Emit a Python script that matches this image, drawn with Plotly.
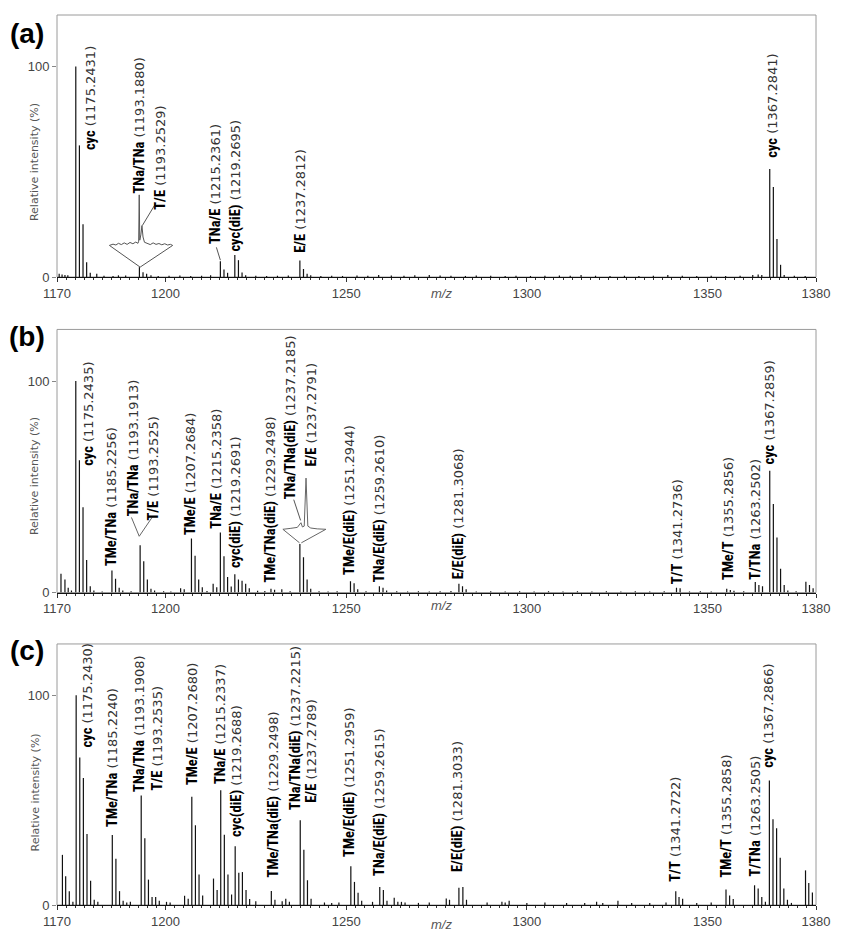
import plotly.graph_objects as go

# ---------------- data ----------------
X_TICKS = [1170, 1200, 1250, 1300, 1350, 1380]
Y_TICKS = [0, 100]

# panel (a) peaks (m/z, relative intensity %)
a_mz = [1170.6, 1171.4, 1172.2, 1173.0, 1175.2, 1176.2, 1177.2, 1178.2, 1179.2, 1181.0, 1183.0, 1185.5,
        1187.0, 1189.0, 1192.8, 1193.8, 1194.8, 1196.0, 1198.0, 1201.0, 1204.0, 1207.0, 1210.0,
        1212.5, 1215.2, 1216.2, 1217.2, 1219.2, 1220.2, 1221.2, 1222.2, 1225.0, 1228.0, 1231.0,
        1234.0, 1237.2, 1238.2, 1239.2, 1240.2, 1243.0, 1246.0, 1249.0, 1253.0, 1256.0, 1259.0,
        1262.5, 1266.0, 1269.0, 1273.0, 1276.0, 1279.0, 1283.0, 1286.0, 1290.0, 1294.0, 1297.0,
        1301.0, 1305.0, 1309.0, 1312.0, 1315.0, 1319.0, 1323.0, 1327.0, 1331.0, 1335.0, 1339.0,
        1343.0, 1347.0, 1351.0, 1355.0, 1359.0, 1362.5, 1364.0, 1365.0, 1367.2, 1368.2, 1369.2,
        1370.2, 1371.2, 1374.0, 1377.0]
a_int = [1.5, 1.2, 1.0, 0.8, 100, 62.5, 25.0, 7.0, 2.0, 1.5, 0.6, 0.5,
         0.8, 0.7, 4.7, 2.3, 1.5, 0.8, 0.5, 0.6, 0.7, 0.5, 0.6,
         0.8, 7.5, 3.6, 2.0, 10.5, 8.0, 2.2, 0.8, 0.6, 0.5, 0.6,
         0.7, 7.8, 3.8, 1.5, 0.8, 0.5, 0.6, 0.5, 0.7, 0.6, 0.9,
         0.7, 0.6, 0.8, 1.0, 0.7, 0.6, 0.5, 0.7, 0.6, 0.5, 0.6,
         0.5, 0.6, 0.7, 0.6, 1.0, 0.6, 0.5, 0.6, 0.5, 0.6, 0.9,
         0.6, 0.5, 0.6, 0.5, 0.6, 0.9, 1.2, 1.0, 51.3, 42.7, 18.0,
         5.8, 1.0, 0.6, 0.5]

# panel (b) peaks
b_mz = [1171.1, 1172.2, 1173.1, 1174.0, 1175.2, 1176.2, 1177.2, 1178.2, 1179.2, 1180.2, 1182.5,
        1185.2, 1186.2, 1187.2, 1188.2, 1190.5,
        1193.0, 1194.0, 1195.0, 1196.0, 1197.0, 1199.5, 1201.5,
        1204.2, 1205.2, 1207.2, 1208.2, 1209.2, 1210.2, 1211.5,
        1213.2, 1214.2, 1215.2, 1216.2, 1217.2, 1218.2, 1219.2, 1220.2, 1221.2, 1222.2, 1223.2,
        1225.5, 1227.5, 1229.2, 1230.2, 1232.2, 1234.5,
        1237.2, 1238.2, 1239.2, 1240.2, 1242.5, 1245.0, 1247.5,
        1251.2, 1252.2, 1253.2, 1255.5,
        1259.2, 1260.2, 1261.2, 1264.0, 1267.0, 1270.0, 1273.0, 1276.0, 1279.0,
        1281.2, 1282.2, 1283.2, 1286.0, 1290.0, 1294.0, 1298.0, 1302.0, 1306.0, 1310.0,
        1314.0, 1318.0, 1322.0, 1326.0, 1330.0, 1334.0, 1338.0,
        1341.4, 1342.4, 1345.0, 1348.0, 1351.0,
        1355.3, 1356.3, 1357.3, 1360.0,
        1363.2, 1364.2, 1365.2,
        1367.2, 1368.2, 1369.2, 1370.2, 1371.2, 1372.2, 1374.5,
        1377.2, 1378.2, 1379.2]
b_int = [8.9, 6.1, 2.2, 1.0, 100, 62.6, 40.3, 15.4, 3.0, 1.0, 0.5,
         10.4, 6.5, 2.3, 1.0, 0.6,
         22.4, 14.8, 6.1, 1.8, 1.0, 0.6, 0.5,
         2.0, 1.5, 25.6, 17.4, 6.1, 2.5, 0.7,
         4.2, 2.5, 28.4, 17.1, 7.3, 2.8, 8.6, 6.1, 5.6, 4.2, 2.0,
         0.8, 0.7, 1.8, 1.3, 1.5, 0.6,
         23.0, 16.7, 6.1, 1.8, 0.6, 0.5, 0.6,
         5.3, 4.4, 1.5, 0.6,
         3.0, 2.2, 1.0, 0.6, 0.5, 0.6, 0.5, 0.6, 0.7,
         4.2, 3.0, 1.5, 0.5, 0.6, 0.5, 0.6, 0.5, 0.6, 0.5,
         0.6, 0.5, 0.6, 0.5, 0.6, 0.5, 0.6,
         2.3, 2.0, 0.5, 0.6, 0.5,
         1.8, 1.2, 0.8, 0.6,
         5.0, 3.5, 3.0,
         57.6, 41.9, 26.0, 11.2, 3.6, 1.0, 0.6,
         5.1, 3.6, 2.0]

# panel (c) peaks
c_mz = [1171.5, 1172.4, 1173.4, 1174.4, 1175.3, 1176.3, 1177.3, 1178.3, 1179.3, 1180.3, 1181.3,
        1185.3, 1186.3, 1187.3, 1188.3, 1189.3, 1190.3,
        1193.3, 1194.3, 1195.3, 1196.3, 1197.3, 1198.3, 1200.3, 1201.3,
        1205.3, 1206.3, 1207.3, 1208.3, 1209.3, 1210.3,
        1213.3, 1214.3, 1215.3, 1216.3, 1217.3, 1218.3, 1219.3, 1220.3, 1221.3, 1222.3, 1223.3, 1225.0,
        1229.3, 1230.3, 1232.3, 1233.3, 1234.3,
        1237.3, 1238.3, 1239.3, 1240.3,
        1244.0, 1246.0, 1248.0,
        1251.3, 1252.3, 1253.3, 1254.3, 1257.3,
        1259.3, 1260.3, 1261.3, 1263.3, 1264.3, 1265.3, 1266.3,
        1270.0, 1273.0, 1277.7, 1278.6, 1281.2, 1282.3, 1283.3,
        1289.0, 1293.1, 1294.0, 1295.1, 1300.0, 1305.0, 1311.0, 1316.0, 1319.3, 1321.0, 1325.2,
        1329.0, 1334.0, 1338.5,
        1341.2, 1342.1, 1343.1,
        1347.0, 1351.0,
        1355.1, 1356.1, 1357.1,
        1363.0, 1364.0, 1365.0, 1366.0,
        1367.1, 1368.1, 1369.1, 1370.1, 1371.1, 1372.1, 1373.2,
        1377.1, 1378.0, 1379.0]
c_int = [23.9, 13.7, 6.6, 1.5, 100, 70.3, 60.5, 33.8, 11.5, 2.5, 1.5,
         33.3, 22.0, 6.6, 2.0, 1.2, 1.5,
         52.2, 31.8, 12.1, 3.8, 3.8, 2.0, 1.5, 1.2,
         4.4, 3.0, 51.6, 38.0, 14.5, 4.5,
         12.6, 7.1, 54.7, 33.5, 14.5, 5.0, 28.0, 15.4, 15.7, 7.1, 2.8, 1.8,
         6.7, 2.5, 1.8, 3.0, 1.5,
         40.4, 26.3, 11.8, 3.0,
         1.2, 1.0, 1.2,
         18.5, 11.0, 5.8, 2.0, 1.5,
         8.6, 7.1, 2.0, 3.5, 1.5, 1.5, 1.2,
         1.0, 1.2, 3.1, 2.5, 8.2, 8.6, 2.5,
         1.2, 1.5, 1.2, 2.0, 1.0, 1.2, 1.0, 1.0, 1.5, 1.0, 2.0,
         1.0, 1.0, 1.2,
         6.6, 3.8, 3.0,
         1.0, 1.2,
         7.4, 4.5, 2.8,
         9.4, 7.9, 3.8, 1.5,
         59.3, 40.9, 36.6, 22.5, 7.9, 2.5, 1.0,
         16.5, 10.5, 6.0]

# peak labels: name, measured mass
a_names = ["cyc", "TNa/TNa", "T/E", "TNa/E", "cyc(diE)", "E/E", "cyc"]
a_masses = ["1175.2431", "1193.1880", "1193.2529", "1215.2361", "1219.2695", "1237.2812", "1367.2841"]

bc_names = ["cyc", "TMe/TNa", "TNa/TNa", "T/E", "TMe/E", "TNa/E", "cyc(diE)", "TMe/TNa(diE)",
            "TNa/TNa(diE)", "E/E", "TMe/E(diE)", "TNa/E(diE)", "E/E(diE)", "T/T", "TMe/T", "T/TNa", "cyc"]
b_masses = ["1175.2435", "1185.2256", "1193.1913", "1193.2525", "1207.2684", "1215.2358", "1219.2691",
            "1229.2498", "1237.2185", "1237.2791", "1251.2944", "1259.2610", "1281.3068", "1341.2736",
            "1355.2856", "1263.2502", "1367.2859"]
c_masses = ["1175.2430", "1185.2240", "1193.1908", "1193.2535", "1207.2680", "1215.2337", "1219.2688",
            "1229.2498", "1237.2215", "1237.2789", "1251.2959", "1259.2615", "1281.3033", "1341.2722",
            "1355.2858", "1263.2505", "1367.2866"]

# label anchor positions (m/z of text column, intensity of text start)
a_lab_x = [1179.3, 1192.75, 1198.8, 1213.9, 1219.3, 1237.4, 1367.9]
a_lab_y = [59.6, 39.0, 31.5, 15.0, 11.7, 10.8, 56.3]
b_lab_x = [1178.5, 1185.1, 1191.4, 1196.6, 1207.0, 1214.1, 1219.6, 1229.2, 1234.7, 1240.4,
           1251.1, 1259.1, 1281.0, 1341.6, 1355.6, 1363.3, 1367.4]
b_lab_y = [59.3, 12.1, 35.5, 33.6, 26.6, 29.9, 11.2, 4.2, 43.5, 59.3, 7.9, 4.2, 5.6, 3.3, 5.6, 5.6, 60.3]
c_lab_x = [1178.5, 1185.4, 1192.75, 1197.7, 1207.3, 1215.3, 1219.6, 1229.8, 1236.1, 1240.2,
           1250.9, 1259.4, 1281.0, 1341.3, 1355.3, 1363.3, 1366.8]
c_lab_y = [74.5, 36.8, 53.3, 54.2, 56.6, 57.0, 32.1, 12.7, 44.8, 48.1, 22.6, 13.2, 15.1, 10.4, 12.7, 13.2, 65.1]

# zoom insets (expanded profiles) and leader lines, in data units
a_inset_mz = [1193.0, 1184.5, 1185.5, 1186.3, 1187.0, 1187.8, 1188.6, 1189.4, 1190.2, 1191.0, 1191.8,
              1192.4, 1192.6, 1192.75, 1192.9, 1193.2, 1193.5, 1193.8, 1194.2, 1195.0, 1195.8, 1196.6,
              1197.4, 1198.2, 1199.0, 1199.8, 1200.6, 1201.4, 1202.0, 1193.0]
a_inset_int = [4.7, 15.0, 15.6, 15.2, 16.0, 15.4, 16.2, 15.5, 16.4, 15.8, 16.6,
               16.0, 17.0, 39.0, 17.5, 20.0, 24.4, 19.0, 16.5, 16.0, 15.4, 16.2,
               15.5, 15.9, 15.3, 15.8, 15.2, 15.5, 15.0, 4.7]
a_leader_mz = [1197.4, 1193.6, None, 1214.1, 1215.2]
a_leader_int = [35.2, 24.4, None, 14.1, 8.0]

b_inset_mz = [1190.6, 1192.75, 1196.3, None,
              1237.1, 1232.5, 1234.5, 1236.5, 1237.5, 1237.9, 1238.4, 1238.9, 1239.4, 1240.2, 1242.0, 1244.4, 1237.6]
b_inset_int = [35.5, 26.6, 35.5, None,
               23.5, 29.9, 30.3, 30.8, 33.0, 31.0, 31.4, 54.1, 31.4, 30.5, 30.1, 29.9, 23.5]
b_leader_mz = [1235.5, 1237.4]
b_leader_int = [43.9, 34.1]


# ---------------- figure ----------------
def sticks(mz, inten):
    xs, ys = [], []
    for m, v in zip(mz, inten):
        xs += [m, m, None]
        ys += [0, v, None]
    return xs, ys


NAME_FONT = "Liberation Sans Narrow, Roboto Condensed, Liberation Sans, Arial"
NUM_FONT = "DejaVu Sans, Verdana, sans-serif"
TICK_FONT = "Liberation Sans, Arial, sans-serif"


def label_html(name, mass):
    return (f'<span style="font-family:{NAME_FONT};font-weight:bold;font-size:14.5px;color:#000">{name}</span>'
            f' ({mass})')


fig = go.Figure()

panels = [
    ("x", "y", a_mz, a_int, a_names, a_masses, a_lab_x, a_lab_y),
    ("x2", "y2", b_mz, b_int, bc_names, b_masses, b_lab_x, b_lab_y),
    ("x3", "y3", c_mz, c_int, bc_names, c_masses, c_lab_x, c_lab_y),
]

annotations = []
shapes = []
for xa, ya, mz, inten, names, masses, lx, ly in panels:
    sx, sy = sticks(mz, inten)
    fig.add_trace(go.Scatter(x=sx, y=sy, xaxis=xa, yaxis=ya, mode="lines",
                             line=dict(color="#111", width=1.2), hoverinfo="skip", showlegend=False))
    for n, m, x, y in zip(names, masses, lx, ly):
        annotations.append(dict(x=x, y=y, xref=xa, yref=ya, text=label_html(n, m), showarrow=False,
                                textangle=-90, xanchor="center", yanchor="bottom", borderpad=0,
                                font=dict(family=NUM_FONT, size=13, color="#333")))
    shapes.append(dict(type="rect", xref=f"{xa} domain", yref=f"{ya} domain", x0=0, x1=1, y0=0, y1=1,
                       line=dict(color="#9a9a9a", width=1), layer="below"))

# insets and leader lines
fig.add_trace(go.Scatter(x=a_inset_mz, y=a_inset_int, xaxis="x", yaxis="y", mode="lines",
                         line=dict(color="#555", width=1), hoverinfo="skip", showlegend=False))
fig.add_trace(go.Scatter(x=a_leader_mz, y=a_leader_int, xaxis="x", yaxis="y", mode="lines",
                         line=dict(color="#555", width=1), hoverinfo="skip", showlegend=False))
fig.add_trace(go.Scatter(x=b_inset_mz, y=b_inset_int, xaxis="x2", yaxis="y2", mode="lines",
                         line=dict(color="#666", width=1), hoverinfo="skip", showlegend=False))
fig.add_trace(go.Scatter(x=b_leader_mz, y=b_leader_int, xaxis="x2", yaxis="y2", mode="lines",
                         line=dict(color="#555", width=1), hoverinfo="skip", showlegend=False))

# panel letters, axis titles
panel_letters = ["(a)", "(b)", "(c)"]
letter_y = [0.979, 0.639, 0.2856]
ytitle_y = [0.835, 0.4822, 0.1267]
mz_title_y = [0.6867, 0.3367, -0.0222]
for lt, py, ty, my in zip(panel_letters, letter_y, ytitle_y, mz_title_y):
    annotations.append(dict(x=-0.039, y=py, xref="paper", yref="paper", text=f"<b>{lt}</b>",
                            showarrow=False, xanchor="center", yanchor="middle",
                            font=dict(family="Liberation Sans, Arial", size=28, color="#000")))
    annotations.append(dict(x=-0.0287, y=ty, xref="paper", yref="paper", text="Relative intensity (%)",
                            showarrow=False, textangle=-90, xanchor="center", yanchor="middle",
                            font=dict(family=NUM_FONT, size=11, color="#555")))
    annotations.append(dict(x=0.5065, y=my, xref="paper", yref="paper", text="<i>m/z</i>",
                            showarrow=False, xanchor="center", yanchor="middle",
                            font=dict(family=TICK_FONT, size=13, color="#555")))

xaxis_common = dict(range=[1170, 1380], tickmode="array", tickvals=X_TICKS,
                    ticktext=[str(v) for v in X_TICKS], ticks="outside", ticklen=4, tickcolor="#333",
                    showline=True, linecolor="#111", linewidth=1, showgrid=False, zeroline=False,
                    tickfont=dict(family=TICK_FONT, size=13, color="#444"),
                    minor=dict(tickmode="linear", tick0=1170, dtick=2.5, ticks="outside", ticklen=2,
                               tickcolor="#333", showgrid=False),
                    fixedrange=True)
yaxis_common = dict(range=[0, 124.4], tickmode="array", tickvals=Y_TICKS,
                    ticktext=[str(v) for v in Y_TICKS], ticks="outside", ticklen=4, tickcolor="#888",
                    showline=False, showgrid=False, zeroline=False,
                    tickfont=dict(family=TICK_FONT, size=13, color="#444"), fixedrange=True)

fig.update_layout(
    width=842, height=941,
    margin=dict(l=57, r=19, t=15, b=26),
    paper_bgcolor="white", plot_bgcolor="white",
    xaxis=dict(xaxis_common, anchor="y", domain=[0, 1]),
    xaxis2=dict(xaxis_common, anchor="y2", domain=[0, 1]),
    xaxis3=dict(xaxis_common, anchor="y3", domain=[0, 1]),
    yaxis=dict(yaxis_common, anchor="x", domain=[0.7056, 1.0]),
    yaxis2=dict(yaxis_common, anchor="x2", domain=[0.3511, 0.6467]),
    yaxis3=dict(yaxis_common, anchor="x3", domain=[0.0, 0.2933]),
    annotations=annotations,
    shapes=shapes,
    showlegend=False,
)

fig.write_html("out.html",
               config={"displayModeBar": False},
               post_script="document.body.style.margin='0';document.body.style.overflow='hidden';")
